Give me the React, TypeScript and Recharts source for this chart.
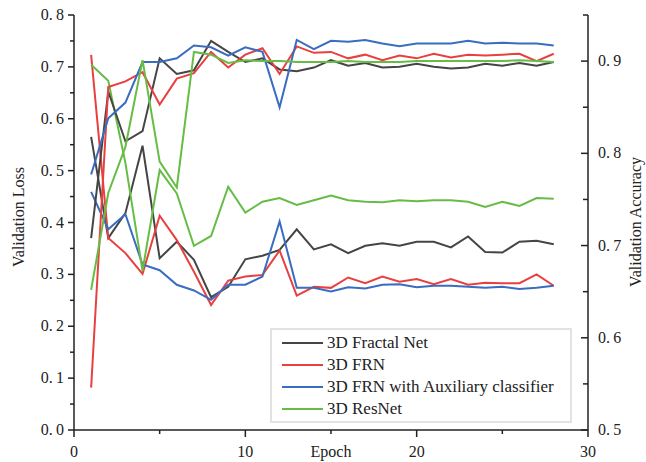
import { LineChart, Line, XAxis, YAxis, Legend } from 'recharts';

const epochs = [1, 2, 3, 4, 5, 6, 7, 8, 9, 10, 11, 12, 13, 14, 15, 16, 17, 18, 19, 20, 21, 22, 23, 24, 25, 26, 27, 28];

// validation loss (left axis)
const fractalLoss = [0.565, 0.370, 0.418, 0.548, 0.331, 0.363, 0.328, 0.256, 0.276, 0.329, 0.336, 0.347, 0.387, 0.348, 0.358, 0.341, 0.355, 0.360, 0.355, 0.363, 0.363, 0.352, 0.373, 0.343, 0.342, 0.363, 0.365, 0.358];
const frnLoss = [0.723, 0.370, 0.341, 0.301, 0.413, 0.366, 0.305, 0.241, 0.288, 0.296, 0.299, 0.346, 0.259, 0.276, 0.274, 0.294, 0.283, 0.296, 0.286, 0.291, 0.281, 0.291, 0.280, 0.284, 0.283, 0.283, 0.300, 0.278];
const auxLoss = [0.459, 0.387, 0.416, 0.319, 0.308, 0.280, 0.269, 0.251, 0.280, 0.280, 0.296, 0.402, 0.274, 0.274, 0.267, 0.275, 0.273, 0.280, 0.281, 0.275, 0.278, 0.278, 0.276, 0.274, 0.276, 0.272, 0.274, 0.278];
const resLoss = [0.704, 0.673, 0.515, 0.307, 0.501, 0.456, 0.355, 0.374, 0.469, 0.419, 0.440, 0.447, 0.434, 0.443, 0.452, 0.443, 0.440, 0.439, 0.443, 0.441, 0.443, 0.443, 0.440, 0.430, 0.440, 0.432, 0.447, 0.446];

// validation accuracy (right axis)
const fractalAcc = [0.708, 0.867, 0.813, 0.824, 0.903, 0.886, 0.890, 0.922, 0.910, 0.899, 0.903, 0.891, 0.889, 0.893, 0.901, 0.895, 0.898, 0.893, 0.894, 0.897, 0.894, 0.892, 0.893, 0.897, 0.895, 0.898, 0.895, 0.899];
const frnAcc = [0.546, 0.872, 0.878, 0.888, 0.853, 0.881, 0.887, 0.910, 0.893, 0.907, 0.914, 0.886, 0.916, 0.909, 0.910, 0.903, 0.907, 0.901, 0.906, 0.903, 0.908, 0.904, 0.907, 0.906, 0.907, 0.908, 0.900, 0.908];
const auxAcc = [0.777, 0.838, 0.855, 0.899, 0.899, 0.903, 0.917, 0.915, 0.906, 0.915, 0.910, 0.850, 0.923, 0.913, 0.922, 0.921, 0.923, 0.919, 0.916, 0.919, 0.919, 0.919, 0.922, 0.919, 0.920, 0.919, 0.919, 0.917];
const resAcc = [0.652, 0.757, 0.807, 0.901, 0.791, 0.763, 0.910, 0.907, 0.898, 0.901, 0.900, 0.900, 0.899, 0.899, 0.899, 0.900, 0.899, 0.899, 0.899, 0.900, 0.900, 0.900, 0.900, 0.900, 0.900, 0.901, 0.900, 0.899];

const epochTicks = [0, 5, 10, 15, 20, 25, 30];
const lossTicks = [0, 0.05, 0.1, 0.15, 0.2, 0.25, 0.3, 0.35, 0.4, 0.45, 0.5, 0.55, 0.6, 0.65, 0.7, 0.75, 0.8];
const accTicks = [0.5, 0.55, 0.6, 0.65, 0.7, 0.75, 0.8, 0.85, 0.9, 0.95];

const seriesNames = ['3D Fractal Net', '3D FRN', '3D FRN with Auxiliary classifier', '3D ResNet'];

const data = epochs.map((epoch, i) => ({
  epoch,
  fractalLoss: fractalLoss[i],
  frnLoss: frnLoss[i],
  auxLoss: auxLoss[i],
  resLoss: resLoss[i],
  fractalAcc: fractalAcc[i],
  frnAcc: frnAcc[i],
  auxAcc: auxAcc[i],
  resAcc: resAcc[i],
}));

const FONT = "'Liberation Serif', 'DejaVu Serif', serif";
const INK = '#222';
const colors = ['#454545', '#e8403f', '#3a6cbf', '#66bd45'];
const txt = { fontFamily: FONT, fontSize: 16, fill: INK };

const isMajor = (v: number, step: number) => Math.abs(v / step - Math.round(v / step)) < 1e-6;
const fmtDec = (v: number) => v.toFixed(1).replace('.', '.\u2009');

function LossTick({ x, y, payload }: any) {
  const major = isMajor(payload.value, 0.1);
  return (
    <g>
      <line x1={x} x2={x - (major ? 6 : 4)} y1={y} y2={y} stroke={INK} strokeWidth={1.5} />
      {major && (
        <text x={x - 10} y={y + 5} textAnchor="end" style={txt}>
          {fmtDec(payload.value)}
        </text>
      )}
    </g>
  );
}

function AccTick({ x, y, payload }: any) {
  const v = payload.value;
  const major = isMajor(v, 0.1) && v < 0.92;
  return (
    <g>
      <line x1={x} x2={x - (major ? 7 : 5)} y1={y} y2={y} stroke={INK} strokeWidth={1.5} />
      {major && (
        <text x={x + 10} y={y + 5} textAnchor="start" style={txt}>
          {fmtDec(v)}
        </text>
      )}
    </g>
  );
}

function EpochTick({ x, y, payload }: any) {
  const major = payload.value % 10 === 0;
  return (
    <g>
      <line x1={x} x2={x} y1={y} y2={y + (major ? 7 : 4)} stroke={INK} strokeWidth={1.5} />
      {major && (
        <text x={x} y={y + 27} textAnchor="middle" style={txt}>
          {payload.value}
        </text>
      )}
    </g>
  );
}

function LegendBox() {
  return (
    <div
      style={{
        width: 302,
        height: 95,
        boxSizing: 'border-box',
        border: '2px solid #e2e2e2',
        background: '#fff',
        padding: '2px 0 0 10px',
        fontFamily: FONT,
        fontSize: 17,
        color: INK,
        whiteSpace: 'nowrap',
      }}
    >
      {seriesNames.map((name, i) => (
        <div key={name} style={{ display: 'flex', alignItems: 'center', height: 22 }}>
          <span style={{ display: 'inline-block', width: 41, height: 2, background: colors[i], marginRight: 4 }} />
          {name}
        </div>
      ))}
    </div>
  );
}

const lossKeys = ['fractalLoss', 'frnLoss', 'auxLoss', 'resLoss'];
const accKeys = ['fractalAcc', 'frnAcc', 'auxAcc', 'resAcc'];

export default function App() {
  return (
    <div style={{ position: 'absolute', left: 0, top: 0, width: 646, height: 462, background: '#fff' }}>
      <LineChart width={646} height={462} data={data} margin={{ top: 15, right: 0, left: 0, bottom: 0 }}>
        <XAxis
          dataKey="epoch"
          type="number"
          domain={[0, 30]}
          ticks={epochTicks}
          interval={0}
          height={32}
          tickSize={0}
          tickMargin={0}
          tickLine={false}
          axisLine={{ stroke: INK, strokeWidth: 1.5 }}
          tick={<EpochTick />}
          label={() => (
            <text x={331} y={457} textAnchor="middle" style={txt}>
              Epoch
            </text>
          )}
        />
        <YAxis
          yAxisId="loss"
          domain={[0, 0.8]}
          ticks={lossTicks}
          interval={0}
          width={74}
          tickSize={0}
          tickMargin={0}
          tickLine={false}
          axisLine={{ stroke: INK, strokeWidth: 1.5 }}
          tick={<LossTick />}
          label={() => (
            <text x={24} y={217} transform="rotate(-90 24 217)" textAnchor="middle" style={txt}>
              Validation Loss
            </text>
          )}
        />
        <YAxis
          yAxisId="acc"
          orientation="right"
          domain={[0.5, 0.95]}
          ticks={accTicks}
          interval={0}
          width={58}
          tickSize={0}
          tickMargin={0}
          tickLine={false}
          axisLine={{ stroke: INK, strokeWidth: 1.5 }}
          tick={<AccTick />}
          label={() => (
            <text x={641} y={222} transform="rotate(-90 641 222)" textAnchor="middle" style={txt}>
              Validation Accuracy
            </text>
          )}
        />
        {lossKeys.map((k, i) => (
          <Line key={k} yAxisId="loss" type="linear" dataKey={k} stroke={colors[i]} strokeWidth={2} dot={false} isAnimationActive={false} />
        ))}
        {accKeys.map((k, i) => (
          <Line key={k} yAxisId="acc" type="linear" dataKey={k} stroke={colors[i]} strokeWidth={2} dot={false} isAnimationActive={false} />
        ))}
        <Legend
          layout="vertical"
          align="center"
          verticalAlign="middle"
          content={<LegendBox />}
          wrapperStyle={{ left: 270, top: 328, width: 302, height: 95 }}
        />
      </LineChart>
    </div>
  );
}
